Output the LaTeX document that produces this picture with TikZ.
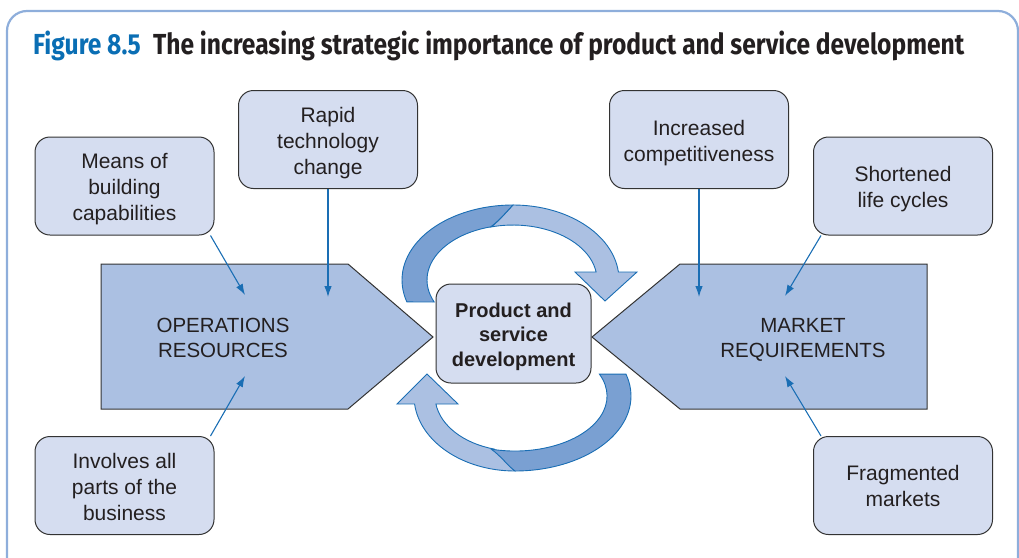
\documentclass[tikz,border=0pt]{standalone}
\usepackage{graphicx}
\usepackage{fontspec}
\setmainfont{Liberation Sans}
\newfontfamily\titlefont{Fira Sans}
\usetikzlibrary{arrows.meta}
\pgfdeclarelayer{bg}
\pgfdeclarelayer{mid}
\pgfsetlayers{bg,mid,main}
\definecolor{boxfill}{HTML}{D5DDF0}
\definecolor{pentfill}{HTML}{ABC0E2}
\definecolor{darkband}{HTML}{7AA0D2}
\definecolor{lineblue}{HTML}{1A6EB4}
\definecolor{framecol}{HTML}{8EAEDB}
\definecolor{titleblue}{HTML}{0A6EB4}
\definecolor{edgegray}{HTML}{333333}
\definecolor{txt}{HTML}{231F20}
\begin{document}
\begin{tikzpicture}[x=1pt,y=-1pt,
  infobox/.style={draw=edgegray, line width=1pt, fill=boxfill, rounded corners=15pt,
    minimum width=179pt, minimum height=98pt, inner sep=0pt},
  boxtext/.style={align=center, font=\fontsize{21}{26}\selectfont, text=txt, inner sep=0pt},
  feeder/.style={draw=lineblue, line width=1.1pt, -{Latex[length=11pt,width=7.5pt]}},
  band/.style={draw=lineblue, line width=0.9pt, line join=miter},
  pent/.style={draw=edgegray, line width=1pt, fill=pentfill, line join=miter},
  penttext/.style={align=center, font=\fontsize{20.5}{25}\selectfont, text=txt, inner sep=0pt}
]
\useasboundingbox (0,0) rectangle (1019,557);
\begin{scope}
  \clip (0,0) rectangle (1019,557);
  \draw[framecol, line width=2.2pt, rounded corners=20pt] (7,11) rectangle (1018,580);
\end{scope}

% title
\node[anchor=base west, inner sep=0pt, text=txt] (title) at (33,54)
  {\resizebox{931pt}{\height}{\titlefont\bfseries\fontsize{29}{34}\selectfont\textcolor{titleblue}{Figure 8.5}\hspace{0.5em}The increasing strategic importance of product and service development}};

% pentagons
\begin{pgfonlayer}{bg}
  \draw[pent] (101,264) -- (348,264) -- (433,337) -- (348,409) -- (101,409) -- cycle;
  \draw[pent] (592,337) -- (680,264) -- (927,264) -- (927,409) -- (680,409) -- cycle;
\end{pgfonlayer}
\node[penttext] (ops) at (223,337.5) {OPERATIONS\\RESOURCES};
\node[penttext] (mkt) at (803,340) {MARKET\\REQUIREMENTS};

% circular arrows (top): light head part below, dark tail on top
\draw[band, fill=pentfill] (513,205) arc[start angle=270, end angle=353.9, x radius=106, y radius=75]
  -- (637,272) -- (605,301) -- (575,272) -- (596.1,272)
  arc[start angle=351.6, end angle=255, x radius=84, y radius=55]
  .. controls (500,220) and (508,210) .. (513,205) -- cycle;
\draw[band, fill=darkband] (513,205) arc[start angle=270, end angle=163, x radius=111, y radius=75]
  -- (434.2,302) arc[start angle=156.4, end angle=255, x radius=86, y radius=55]
  .. controls (500,220) and (508,210) .. (513,205) -- cycle;
% circular arrows (bottom)
\draw[band, fill=pentfill] (515,471) arc[start angle=90, end angle=173.9, x radius=101, y radius=75]
  -- (397,404) -- (427,374) -- (458,404) -- (435.9,404)
  arc[start angle=171.6, end angle=105, x radius=80, y radius=55]
  .. controls (502,456) and (509,466) .. (515,471) -- cycle;
\draw[band, fill=darkband] (515,471) arc[start angle=90, end angle=-17, x radius=116, y radius=75]
  -- (599.4,374.1) arc[start angle=-23.5, end angle=105, x radius=92, y radius=55]
  .. controls (501,456) and (508,466) .. (515,471) -- cycle;

% boxes
\node[infobox] (means) at (124.5,186) {};
\node[infobox] (rapid) at (328,139.5) {};
\node[infobox] (incr) at (699,139.5) {};
\node[infobox] (short) at (903,186) {};
\node[infobox] (invol) at (124.5,485.5) {};
\node[infobox] (frag) at (903,485.5) {};
\node[infobox, minimum width=155pt, minimum height=99pt] (psd) at (513.5,333.5) {};

\node[boxtext] (means-t) at ([yshift=-3.5pt]means.center) {Means of\\building\\capabilities};
\node[boxtext] (rapid-t) at ([yshift=-3.5pt]rapid.center) {Rapid\\technology\\change};
\node[boxtext] (incr-t) at ([yshift=-3.5pt]incr.center) {Increased\\competitiveness};
\node[boxtext] (short-t) at ([yshift=-3.5pt]short.center) {Shortened\\life cycles};
\node[boxtext] (invol-t) at ([yshift=-1.5pt]invol.center) {Involves all\\parts of the\\business};
\node[boxtext] (frag-t) at ([yshift=-0.5pt]frag.center) {Fragmented\\markets};
\node[boxtext, font=\bfseries\fontsize{20}{24.5}\selectfont] (psd-t) at ([yshift=-3pt]psd.center)
  {Product and\\service\\development};

% arrow tips
\coordinate (tA) at (245,295);
\coordinate (tB) at (328,297);
\coordinate (tC) at (245,376);
\coordinate (tD) at (699,297);
\coordinate (tE) at (785,296);
\coordinate (tF) at (785,376);

\begin{pgfonlayer}{mid}
  \draw[feeder] ([xshift=-4pt]means.south east) -- (tA);
  \draw[feeder] (rapid.south) -- (tB);
  \draw[feeder] ([xshift=-4pt]invol.north east) -- (tC);
  \draw[feeder] (incr.south) -- (tD);
  \draw[feeder] ([xshift=8pt]short.south west) -- (tE);
  \draw[feeder] ([xshift=8pt]frag.north west) -- (tF);
\end{pgfonlayer}
\end{tikzpicture}
\end{document}
